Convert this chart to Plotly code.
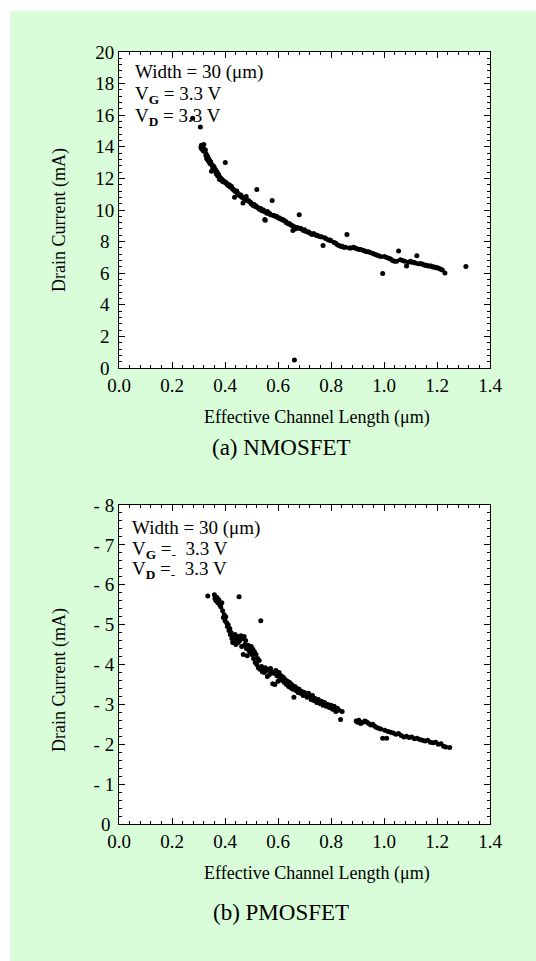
import plotly.graph_objects as go

# NMOSFET: effective channel length (um) vs drain current (mA)
nmos_len = [0.278, 0.307, 0.309, 0.311, 0.313, 0.315, 0.318, 0.320, 0.323, 0.326, 0.328, 0.331, 0.334, 0.337,
            0.340, 0.343, 0.346, 0.349, 0.352, 0.355, 0.358, 0.361, 0.364, 0.367, 0.370, 0.373, 0.376, 0.379,
            0.382, 0.385, 0.388, 0.391, 0.394, 0.398, 0.401, 0.405, 0.408, 0.412, 0.416, 0.420, 0.424, 0.428,
            0.432, 0.436, 0.440, 0.444, 0.448, 0.452, 0.456, 0.460, 0.464, 0.468, 0.472, 0.476, 0.480, 0.485,
            0.490, 0.495, 0.500, 0.505, 0.510, 0.515, 0.520, 0.525, 0.530, 0.535, 0.540, 0.545, 0.550, 0.555,
            0.560, 0.566, 0.572, 0.578, 0.584, 0.590, 0.596, 0.602, 0.608, 0.614, 0.620, 0.626, 0.632, 0.638,
            0.644, 0.650, 0.656, 0.662, 0.668, 0.674, 0.680, 0.688, 0.696, 0.704, 0.712, 0.720, 0.728, 0.736,
            0.744, 0.752, 0.760, 0.770, 0.780, 0.790, 0.800, 0.812, 0.824, 0.836, 0.848, 0.860, 0.875, 0.890,
            0.905, 0.920, 0.935, 0.950, 0.965, 0.980, 0.995, 1.010, 1.025, 1.040, 1.055, 1.070, 1.085, 1.100,
            1.112, 1.124, 1.136, 1.148, 1.160, 1.172, 1.184, 1.196, 1.208, 1.220, 1.230, 1.309,
            0.316, 0.322, 0.329, 0.336, 0.342, 0.348, 0.354, 0.360, 0.366, 0.372, 0.378, 0.384, 0.390, 0.396,
            0.403, 0.410, 0.418, 0.426, 0.434, 0.438, 0.446, 0.454, 0.462, 0.470, 0.478, 0.488, 0.498, 0.508,
            0.518, 0.528, 0.538, 0.548, 0.552, 0.558, 0.570, 0.582, 0.594, 0.606, 0.618, 0.630, 0.642, 0.654,
            0.660, 0.664, 0.672, 0.684, 0.700, 0.716, 0.732, 0.748, 0.764, 0.776, 0.796, 0.818, 0.830, 0.842,
            0.855, 0.870, 0.885, 0.898, 0.912, 0.928, 0.942, 0.958, 0.972, 0.988, 1.002, 1.018, 1.032, 1.048,
            1.062, 1.078, 1.092, 1.106, 1.118, 1.130, 1.142, 1.154, 1.166, 1.178, 1.190, 1.202, 1.214]
nmos_cur = [15.80, 15.25, 13.95, 14.10, 13.85, 14.00, 13.75, 14.15, 13.70, 13.80, 13.45, 13.25, 13.40, 13.10,
            13.20, 12.95, 13.05, 12.45, 12.85, 12.60, 12.75, 12.50, 12.55, 12.30, 12.40, 12.15, 12.25, 11.95,
            12.05, 11.90, 11.95, 11.80, 11.85, 11.75, 13.00, 11.70, 11.65, 11.55, 11.60, 11.45, 11.50, 11.35,
            11.30, 10.80, 11.15, 11.20, 11.05, 11.00, 10.90, 10.95, 10.80, 10.45, 10.75, 10.70, 10.85, 10.60,
            10.55, 10.50, 10.40, 10.30, 10.35, 10.20, 11.30, 10.15, 10.05, 10.10, 9.95, 10.00, 9.40, 9.85,
            9.90, 9.80, 9.70, 10.60, 9.65, 9.60, 9.55, 9.50, 9.45, 9.40, 9.35, 9.30, 9.20, 9.15,
            9.10, 9.05, 8.70, 0.50, 8.90, 8.85, 9.70, 8.80, 8.70, 8.65, 8.60, 8.55, 8.45, 8.50,
            8.40, 8.35, 8.30, 7.75, 8.20, 8.10, 8.05, 7.95, 7.80, 7.70, 7.65, 8.45, 7.60, 7.60,
            7.50, 7.45, 7.35, 7.30, 7.20, 7.10, 5.98, 7.00, 6.90, 6.75, 7.40, 6.80, 6.45, 6.75,
            6.70, 7.10, 6.60, 6.55, 6.50, 6.45, 6.40, 6.35, 6.30, 6.20, 6.02, 6.42,
            13.90, 13.85, 13.55, 13.30, 13.10, 12.90, 12.70, 12.65, 12.45, 12.20, 12.10, 12.00, 11.90, 11.80,
            11.75, 11.60, 11.50, 11.40, 11.25, 11.20, 11.10, 10.95, 10.85, 10.75, 10.65, 10.60, 10.45, 10.30,
            10.25, 10.10, 10.00, 9.90, 9.35, 9.80, 9.75, 9.65, 9.60, 9.50, 9.40, 9.25, 9.15, 9.00,
            8.95, 8.80, 8.90, 8.85, 8.75, 8.60, 8.50, 8.40, 8.30, 8.25, 8.10, 7.90, 7.75, 7.70,
            7.65, 7.60, 7.65, 7.55, 7.50, 7.40, 7.35, 7.25, 7.15, 7.05, 7.05, 6.95, 6.80, 6.75,
            6.85, 6.75, 6.70, 6.70, 6.65, 6.60, 6.60, 6.50, 6.45, 6.45, 6.40, 6.35, 6.25]

# PMOSFET: effective channel length (um) vs drain current (mA)
pmos_len = [0.335, 0.360, 0.362, 0.366, 0.370, 0.373, 0.377, 0.380, 0.384, 0.388, 0.391, 0.394, 0.397, 0.400,
            0.403, 0.406, 0.409, 0.412, 0.415, 0.418, 0.420, 0.423, 0.426, 0.429, 0.432, 0.435, 0.438, 0.441,
            0.444, 0.447, 0.450, 0.453, 0.456, 0.460, 0.463, 0.466, 0.469, 0.472, 0.475, 0.478, 0.481, 0.484,
            0.487, 0.490, 0.493, 0.496, 0.499, 0.502, 0.505, 0.508, 0.511, 0.514, 0.517, 0.520, 0.523, 0.526,
            0.529, 0.532, 0.535, 0.538, 0.541, 0.544, 0.548, 0.552, 0.556, 0.560, 0.564, 0.568, 0.572, 0.576,
            0.580, 0.584, 0.588, 0.592, 0.596, 0.600, 0.604, 0.608, 0.612, 0.616, 0.620, 0.624, 0.628, 0.632,
            0.636, 0.640, 0.644, 0.648, 0.652, 0.656, 0.660, 0.664, 0.668, 0.672, 0.676, 0.680, 0.685, 0.690,
            0.695, 0.700, 0.705, 0.710, 0.715, 0.720, 0.725, 0.730, 0.735, 0.740, 0.746, 0.752, 0.758, 0.764,
            0.770, 0.776, 0.782, 0.788, 0.794, 0.800, 0.806, 0.812, 0.818, 0.824, 0.830, 0.836, 0.842,
            0.895, 0.900, 0.905, 0.912, 0.920, 0.928, 0.935, 0.942, 0.950, 0.958, 0.965, 0.972, 0.980, 0.988,
            0.995, 1.003, 1.010, 1.015, 1.025, 1.035, 1.045, 1.055, 1.065, 1.075, 1.085, 1.095, 1.105, 1.115,
            1.125, 1.135, 1.145, 1.155, 1.165, 1.175, 1.185, 1.195, 1.205, 1.215, 1.225, 1.233, 1.248]
pmos_cur = [-5.72, -5.75, -5.65, -5.60, -5.68, -5.55, -5.62, -5.50, -5.45, -5.55, -5.35, -5.18, -5.25, -5.10,
            -5.20, -5.05, -4.95, -5.00, -4.85, -4.90, -4.75, -4.80, -4.65, -4.55, -4.70, -4.60, -4.75, -4.50,
            -4.65, -4.70, -4.55, -5.70, -4.60, -4.72, -4.45, -4.65, -4.25, -4.70, -4.50, -4.60, -4.40, -4.22,
            -4.48, -4.35, -4.42, -4.30, -4.45, -4.25, -4.38, -4.15, -4.32, -4.05, -4.25, -4.00, -4.15, -3.92,
            -4.10, -3.88, -5.10, -3.95, -3.82, -3.90, -3.80, -3.92, -3.85, -3.70, -3.88, -3.75, -3.90, -3.82,
            -3.52, -3.78, -3.50, -3.85, -3.72, -3.58, -3.80, -3.65, -3.72, -3.60, -3.68, -3.55, -3.62, -3.50,
            -3.58, -3.45, -3.55, -3.42, -3.50, -3.38, -3.18, -3.45, -3.35, -3.40, -3.30, -3.38, -3.28, -3.32,
            -3.22, -3.30, -3.25, -3.18, -3.28, -3.20, -3.12, -3.22, -3.10, -3.15, -3.05, -3.12, -3.02, -3.08,
            -2.98, -3.05, -2.95, -3.00, -2.92, -2.98, -2.88, -2.95, -2.82, -2.90, -2.85, -2.62, -2.82,
            -2.58, -2.55, -2.60, -2.52, -2.55, -2.58, -2.56, -2.52, -2.48, -2.50, -2.45, -2.42, -2.40, -2.38,
            -2.15, -2.35, -2.15, -2.32, -2.30, -2.28, -2.25, -2.27, -2.22, -2.18, -2.20, -2.17, -2.18, -2.14,
            -2.15, -2.12, -2.10, -2.08, -2.10, -2.05, -2.04, -2.05, -2.00, -2.01, -1.95, -1.93, -1.92]

x_ticks = [0.0, 0.2, 0.4, 0.6, 0.8, 1.0, 1.2, 1.4]
nmos_yticks = [0, 2, 4, 6, 8, 10, 12, 14, 16, 18, 20]
nmos_yticktext = ["0\u00a0", "2\u00a0", "4\u00a0", "6\u00a0", "8\u00a0", "10", "12", "14", "16", "18", "20"]
pmos_yticks = [0, -1, -2, -3, -4, -5, -6, -7, -8]
pmos_yticktext = ["0\u2009", "- 1", "- 2", "- 3", "- 4", "- 5", "- 6", "- 7", "- 8"]

FONT = "Liberation Serif"
GREEN = "#d9fdd9"
W, H = 536, 961

fig = go.Figure()
fig.add_trace(go.Scatter(x=nmos_len, y=nmos_cur, mode="markers",
                         marker=dict(color="black", size=5, line=dict(width=0)), xaxis="x", yaxis="y"))
fig.add_trace(go.Scatter(x=pmos_len, y=pmos_cur, mode="markers",
                         marker=dict(color="black", size=5, line=dict(width=0)), xaxis="x2", yaxis="y2"))

xdom = [119 / W, 490 / W]
common_x = dict(range=[0, 1.4], tickvals=x_ticks, tickformat=".1f", ticks="inside", ticklen=6,
                tickcolor="black", showline=True, linecolor="black", linewidth=1, mirror="ticks",
                showgrid=False, zeroline=False, automargin=False,
                tickfont=dict(family=FONT, size=19, color="black"),
                minor=dict(dtick=0.04, tick0=0, ticks="inside", ticklen=3, tickcolor="black"),
                domain=xdom)
common_y = dict(ticks="inside", ticklen=6, tickcolor="black", showline=True, linecolor="black",
                linewidth=1, mirror="ticks", showgrid=False, zeroline=False, automargin=False,
                tickfont=dict(family=FONT, size=19, color="black"))

fig.update_layout(
    template="none",
    width=W, height=H, autosize=False,
    margin=dict(l=0, r=0, t=0, b=0, pad=0, autoexpand=False),
    paper_bgcolor=GREEN, plot_bgcolor="white", showlegend=False,
    xaxis=dict(common_x, anchor="y"),
    xaxis2=dict(common_x, anchor="y2"),
    yaxis=dict(common_y, anchor="x", range=[0, 20], tickvals=nmos_yticks, ticktext=nmos_yticktext,
               minor=dict(tickmode="linear", dtick=0.4, tick0=0, ticks="inside", ticklen=3, tickcolor="black"),
               domain=[1 - 368 / H, 1 - 52 / H]),
    yaxis2=dict(common_y, anchor="x2", range=[0, -8], tickvals=pmos_yticks, ticktext=pmos_yticktext,
                minor=dict(tickmode="linear", dtick=0.2, tick0=0, ticks="inside", ticklen=3, tickcolor="black"),
                domain=[1 - 824 / H, 1 - 505 / H]),
)

# thin white border along the top and left of the green page
fig.add_shape(type="rect", xref="paper", yref="paper", x0=0, x1=1, y0=1 - 11 / H, y1=1,
              fillcolor="white", line=dict(width=0), layer="below")
fig.add_shape(type="rect", xref="paper", yref="paper", x0=0, x1=10 / W, y0=0, y1=1,
              fillcolor="white", line=dict(width=0), layer="below")


def txt(x, y, s, size=19, xanchor="center", angle=0):
    fig.add_annotation(x=x / W, y=1 - y / H, xref="paper", yref="paper", text=s, showarrow=False,
                       xanchor=xanchor, yanchor="middle", textangle=angle,
                       font=dict(family=FONT, size=size, color="black"))


# (a) NMOSFET
txt(133, 72, "Width = 30 (μm)", xanchor="left")
txt(133, 95, "V<sub><b>G</b></sub> = 3.3 V", xanchor="left")
txt(133, 117, "V<sub><b>D</b></sub> = 3.3 V", xanchor="left")
txt(59, 220, "Drain Current (mA)", size=18, angle=-90)
txt(317, 417, "Effective Channel Length (μm)", size=18)
txt(281, 447, "(a) NMOSFET", size=23)

# (b) PMOSFET
txt(130, 528, "Width = 30 (μm)", xanchor="left")
txt(130, 550, "V<sub><b>G</b></sub> =<sub>-</sub>  3.3 V", xanchor="left")
txt(130, 570, "V<sub><b>D</b></sub> =<sub>-</sub>  3.3 V", xanchor="left")
txt(59, 680, "Drain Current (mA)", size=18, angle=-90)
txt(317, 873, "Effective Channel Length (μm)", size=18)
txt(281, 912, "(b) PMOSFET", size=23)

# drop the browser's default body margin so the figure sits at the page origin
fig.write_html("out.html", config={"displayModeBar": False},
               post_script="document.body.style.margin='0';")
